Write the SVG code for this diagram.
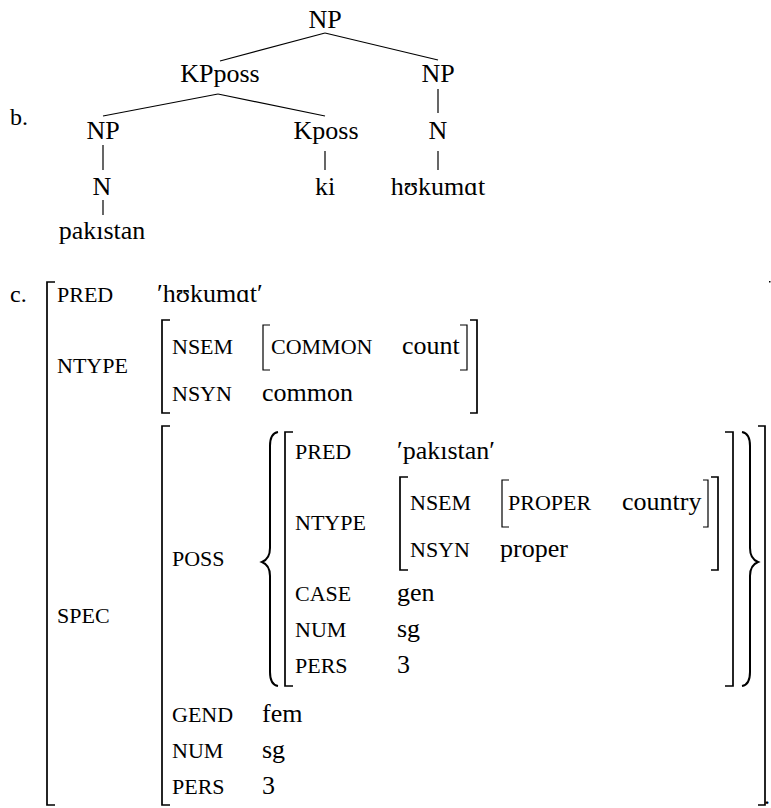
<svg xmlns="http://www.w3.org/2000/svg" width="771" height="808" viewBox="0 0 771 808">
<style>
text{font-family:Liberation Serif,Tinos,Times New Roman,Times,DejaVu Serif,Noto Serif,FreeSerif,serif;fill:#000}
.t{font-size:26px;text-anchor:middle}
.v{font-size:26px}
.a{font-size:22px}
.lab{font-size:24px}
.ln{stroke:#000;stroke-width:1.2;fill:none}
.br{stroke:#000;stroke-width:1.7;fill:none}
.bt{stroke:#000;stroke-width:1.2;fill:none}
.brace{stroke:#000;stroke-width:2;fill:none}
</style>
<rect width="771" height="808" fill="#fff"/>
<text class="lab" x="10" y="125">b.</text>
<g id="connectors">
<line class="ln" x1="325" y1="33" x2="220" y2="61"/>
<line class="ln" x1="325" y1="33" x2="438" y2="60"/>
<line class="ln" x1="218" y1="94" x2="103" y2="116"/>
<line class="ln" x1="218" y1="94" x2="325" y2="116"/>
<line class="ln" x1="438" y1="89" x2="438" y2="113"/>
<line class="ln" x1="103" y1="145" x2="103" y2="170"/>
<line class="ln" x1="325" y1="151" x2="325" y2="170"/>
<line class="ln" x1="438" y1="151" x2="438" y2="170"/>
<line class="ln" x1="103" y1="200" x2="103" y2="215"/>
</g>
<g id="np-root"><text class="t" x="325" y="28">NP</text></g>
<g id="kpposs"><text class="t" x="220" y="82">KPposs</text></g>
<g id="np-right"><text class="t" x="438" y="82">NP</text></g>
<g id="np-left"><text class="t" x="103" y="139">NP</text></g>
<g id="kposs"><text class="t" x="326" y="139">Kposs</text></g>
<g id="n-right"><text class="t" x="438" y="139">N</text></g>
<g id="n-left"><text class="t" x="102" y="195">N</text></g>
<g id="ki"><text class="t" x="325" y="195">ki</text></g>
<g id="hukumat"><text class="t" x="438" y="195">hʊkumɑt</text></g>
<g id="pakistan"><text class="t" x="102" y="239">pakıstan</text></g>

<g id="fstructure">
<text class="lab" x="10" y="302">c.</text>
<path class="br" d="M55,282 H47 V805 H55"/>
<rect x="769" y="281" width="1.5" height="1.5" fill="#000"/>
<text class="a" x="57" y="302">PRED</text>
<text class="v" x="157" y="302">′hʊkumɑt′</text>
<text class="a" x="57" y="373">NTYPE</text>
<path class="br" d="M170,320 H162 V413 H170"/>
<path class="br" d="M470,320 H477 V413 H470"/>
<text class="a" x="172" y="354">NSEM</text>
<path class="bt" d="M270,325 H263 V370 H270"/>
<text class="a" x="271" y="354">COMMON</text>
<text class="v" x="402" y="354">count</text>
<path class="bt" d="M460,325 H467 V370 H460"/>
<text class="a" x="172" y="401">NSYN</text>
<text class="v" x="262" y="401">common</text>

<text class="a" x="57" y="623">SPEC</text>
<path class="br" d="M170,426 H162 V805 H170"/>
<path class="br" d="M758,426 H765 V805 H758"/>
<text class="lab" x="764" y="804">.</text>
<text class="a" x="172" y="566">POSS</text>
<path class="brace" d="M278,432 C272,433 270,438 270,446 V548 C270,555 267,560 262,562 C267,564 270,569 270,576 V672 C270,680 272,685 278,686"/>
<path class="br" d="M293,432 H285 V686 H293"/>
<path class="br" d="M725,432 H733 V686 H725"/>
<path class="brace" d="M742,432 C748,433 750,438 750,446 V548 C750,555 753,560 758,562 C753,564 750,569 750,576 V672 C750,680 748,685 742,686"/>
<text class="a" x="295" y="459">PRED</text>
<text class="v" x="397" y="459">′pakıstan′</text>
<text class="a" x="295" y="530">NTYPE</text>
<path class="br" d="M408,477 H400 V570 H408"/>
<path class="br" d="M711,477 H718 V570 H711"/>
<text class="a" x="410" y="510">NSEM</text>
<path class="bt" d="M509,480 H502 V527 H509"/>
<text class="a" x="508" y="510">PROPER</text>
<text class="v" x="622" y="510">country</text>
<path class="bt" d="M703,480 H708 V527 H703"/>
<text class="a" x="410" y="557">NSYN</text>
<text class="v" x="500" y="557">proper</text>
<text class="a" x="295" y="601">CASE</text>
<text class="v" x="397" y="601">gen</text>
<text class="a" x="295" y="637">NUM</text>
<text class="v" x="397" y="637">sg</text>
<text class="a" x="295" y="673">PERS</text>
<text class="v" x="397" y="673">3</text>
<text class="a" x="172" y="722">GEND</text>
<text class="v" x="262" y="722">fem</text>
<text class="a" x="172" y="758">NUM</text>
<text class="v" x="262" y="758">sg</text>
<text class="a" x="172" y="794">PERS</text>
<text class="v" x="262" y="794">3</text>
</g>
</svg>
